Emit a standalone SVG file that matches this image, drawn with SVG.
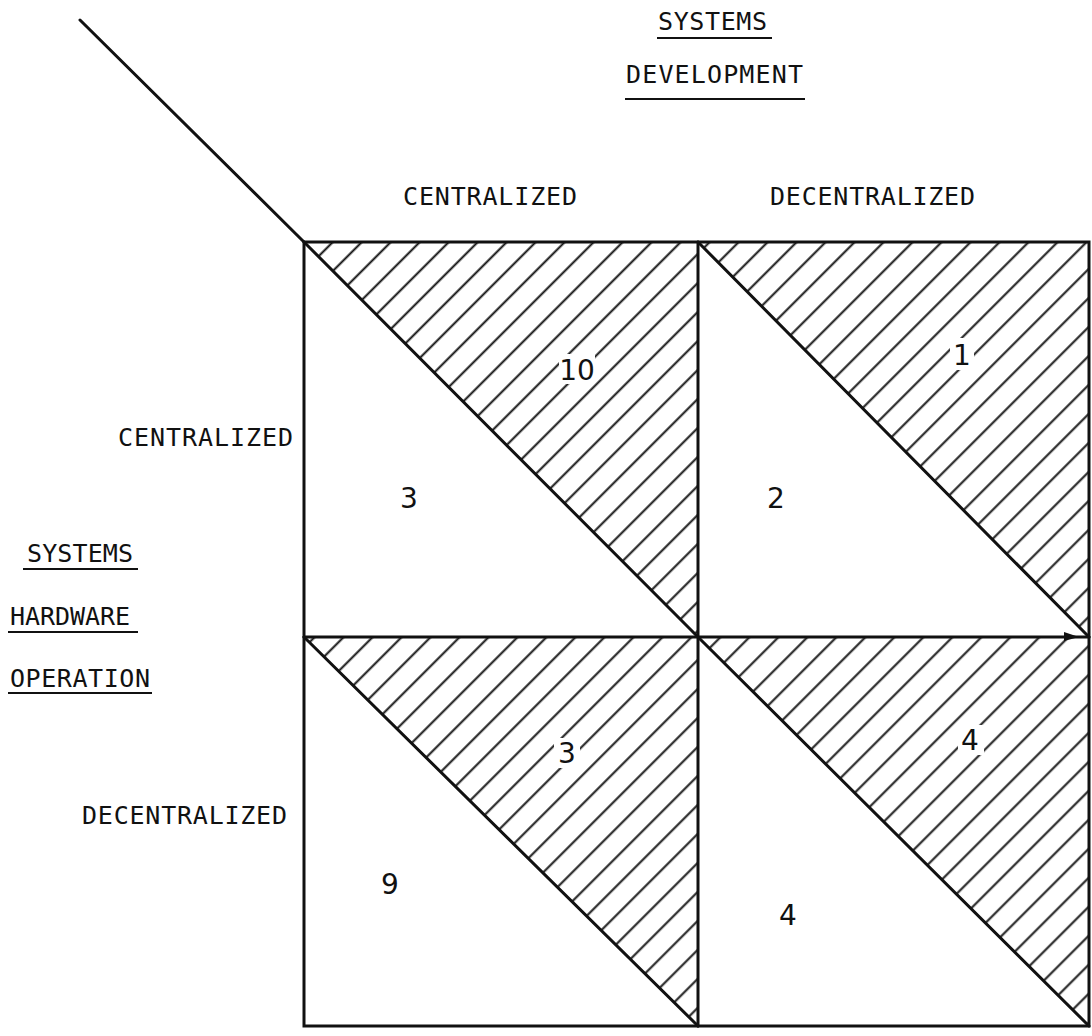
<svg xmlns="http://www.w3.org/2000/svg" width="1092" height="1036" viewBox="0 0 1092 1036">
<style>
.lbl{font-family:"DejaVu Sans Mono","Liberation Mono",monospace;font-size:25px;fill:#111}
.num{font-family:"DejaVu Sans","Liberation Sans",sans-serif;font-size:28px;fill:#111;text-anchor:middle}
.edge{stroke:#111;stroke-width:3;fill:none;stroke-linecap:round}
.ul{stroke:#111;stroke-width:2}
.hatch{fill:url(#h)}
</style>
<defs>
<pattern id="h" patternUnits="userSpaceOnUse" width="20.5" height="20.5" patternTransform="rotate(45)">
<line x1="17" y1="-1" x2="17" y2="21.5" stroke="#111" stroke-width="2"/>
</pattern>
</defs>
<rect width="1092" height="1036" fill="#fff"/>
<g id="header-top">
<text class="lbl" x="658" y="30" textLength="109">SYSTEMS</text>
<line class="ul" x1="657" y1="38" x2="772" y2="38"/>
<text class="lbl" x="626" y="83" textLength="177">DEVELOPMENT</text>
<line class="ul" x1="625" y1="99" x2="805" y2="99"/>
<text class="lbl" x="403" y="205" textLength="174">CENTRALIZED</text>
<text class="lbl" x="770" y="205" textLength="205">DECENTRALIZED</text>
</g>
<g id="header-left">
<text class="lbl" x="118" y="446" textLength="175">CENTRALIZED</text>
<text class="lbl" x="82" y="824" textLength="205">DECENTRALIZED</text>
<text class="lbl" x="27" y="562" textLength="106">SYSTEMS</text>
<line class="ul" x1="23" y1="569" x2="138" y2="569"/>
<text class="lbl" x="10" y="625" textLength="120">HARDWARE</text>
<line class="ul" x1="8" y1="632" x2="138" y2="632"/>
<text class="lbl" x="10" y="687" textLength="140">OPERATION</text>
<line class="ul" x1="8" y1="693" x2="152" y2="693"/>
</g>
<g id="q-cc">
<polygon class="hatch" points="304,242 698,242 698,637"/>
<rect x="559" y="354" width="36" height="30" fill="#fff"/>
<line class="edge" x1="304" y1="242" x2="698" y2="637"/>
<text class="num" x="577" y="380">10</text>
<text class="num" x="409" y="508">3</text>
</g>
<g id="q-cd">
<polygon class="hatch" points="698,242 1089,242 1089,637"/>
<rect x="950" y="338" width="24" height="32" fill="#fff"/>
<line class="edge" x1="698" y1="242" x2="1089" y2="637"/>
<text class="num" x="962" y="365">1</text>
<text class="num" x="776" y="508">2</text>
</g>
<g id="q-dc">
<polygon class="hatch" points="304,637 698,637 698,1026"/>
<rect x="554" y="738" width="26" height="30" fill="#fff"/>
<line class="edge" x1="304" y1="637" x2="698" y2="1026"/>
<text class="num" x="567" y="763">3</text>
<text class="num" x="390" y="894">9</text>
</g>
<g id="q-dd">
<polygon class="hatch" points="698,637 1089,637 1089,1026"/>
<rect x="958" y="725" width="26" height="30" fill="#fff"/>
<line class="edge" x1="698" y1="637" x2="1089" y2="1026"/>
<text class="num" x="970" y="750">4</text>
<text class="num" x="788" y="925">4</text>
</g>
<g id="grid">
<rect class="edge" x="304" y="242" width="785" height="784"/>
<line class="edge" x1="698" y1="242" x2="698" y2="1026"/>
<line class="edge" x1="304" y1="637" x2="1089" y2="637"/>
</g>
<g id="connectors">
<line class="edge" x1="80" y1="20" x2="304" y2="242" stroke-width="2"/>
<polygon points="1064,632 1079,637 1064,641" fill="#111"/>
</g>
</svg>
